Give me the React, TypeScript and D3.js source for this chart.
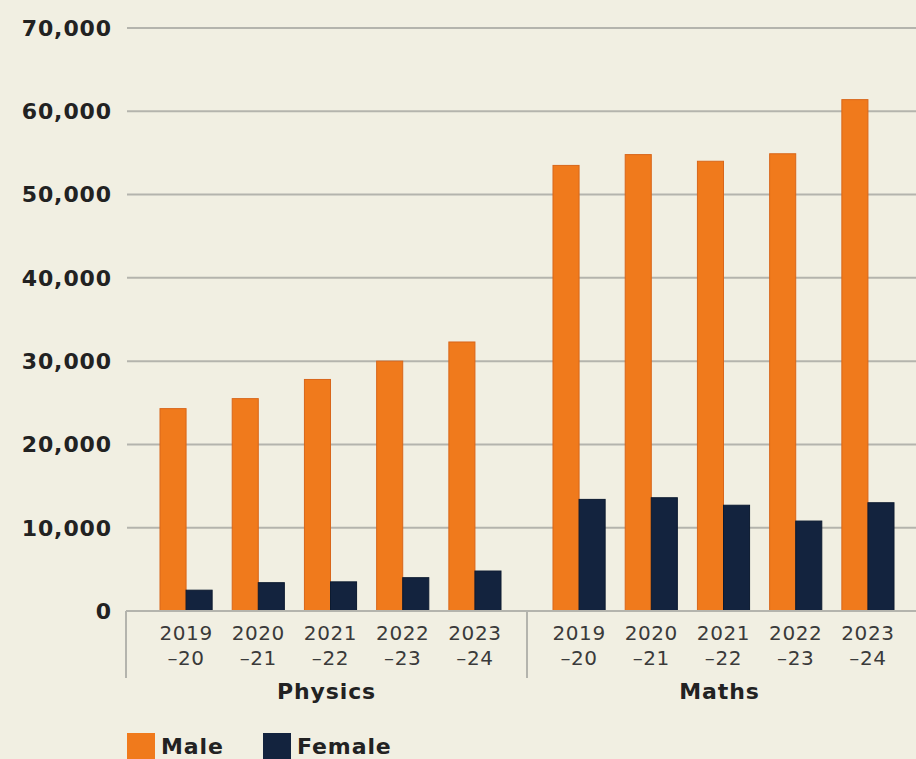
import React from "react";
import * as d3 from "d3";

const subjects = ["Physics", "Maths"];
const years = ["2019-20", "2020-21", "2021-22", "2022-23", "2023-24"];
const yearTop = ["2019", "2020", "2021", "2022", "2023"];
const yearBottom = ["–20", "–21", "–22", "–23", "–24"];
const series = ["Male", "Female"];
const physicsMale = [24300, 25500, 27800, 30000, 32300];
const physicsFemale = [2500, 3400, 3500, 4000, 4800];
const mathsMale = [53500, 54800, 54000, 54900, 61400];
const mathsFemale = [13400, 13600, 12700, 10800, 13000];
const yTicks = [0, 10000, 20000, 30000, 40000, 50000, 60000, 70000];

const W = 916;
const H = 759;
const colors: Record<string, string> = { Male: "#f07a1c", Female: "#13233e" };
const dataBySubject: Record<string, Record<string, number[]>> = {
  Physics: { Male: physicsMale, Female: physicsFemale },
  Maths: { Male: mathsMale, Female: mathsFemale },
};

export default function App() {
  const y = d3.scaleLinear().domain([0, 70000]).range([611, 28]);
  const xGroup = d3.scaleBand<string>().domain(subjects).range([134, 920]);
  const xYear = d3
    .scaleBand<string>()
    .domain(years)
    .range([0, xGroup.bandwidth()])
    .paddingInner(0.278)
    .paddingOuter(0.36);
  const xSeries = d3.scaleBand<string>().domain(series).range([0, xYear.bandwidth()]);
  const fmt = d3.format(",");
  const font = "'DejaVu Sans', sans-serif";

  return (
    <div style={{ position: "absolute", left: 0, top: 0 }}>
      <svg width={W} height={H} style={{ display: "block", background: "#f1efe2" }}>
        <rect x={0} y={0} width={W} height={H} fill="#f1efe2" />
        {yTicks.map((t) => (
          <g key={t}>
            {t > 0 && (
              <line x1={127} x2={W} y1={y(t)} y2={y(t)} stroke="#b4b4ad" strokeWidth={2} />
            )}
            <text
              x={112}
              y={y(t)}
              dy="0.36em"
              textAnchor="end"
              fontFamily={font}
              fontWeight="bold"
              fontSize={22}
              letterSpacing={0.9}
              fill="#222"
            >
              {fmt(t)}
            </text>
          </g>
        ))}
        {subjects.map((s) => {
          const gx = xGroup(s)!;
          return (
            <g key={s} transform={`translate(${gx},0)`}>
              {years.map((yr, i) => (
                <g key={yr} transform={`translate(${xYear(yr)},0)`}>
                  {series.map((se) => {
                    const v = dataBySubject[s][se][i];
                    return (
                      <rect
                        key={se}
                        x={xSeries(se)}
                        y={y(v)}
                        width={xSeries.bandwidth()}
                        height={y(0) - y(v)}
                        fill={colors[se]}
                        stroke={se === "Male" ? "#d8661a" : "#0c1a30"}
                        strokeWidth={1}
                      />
                    );
                  })}
                  <text
                    x={xYear.bandwidth() / 2}
                    y={640}
                    textAnchor="middle"
                    fontFamily={font}
                    fontSize={20}
                    letterSpacing={0.6}
                    fill="#3a3a3a"
                  >
                    {yearTop[i]}
                  </text>
                  <text
                    x={xYear.bandwidth() / 2}
                    y={665}
                    textAnchor="middle"
                    fontFamily={font}
                    fontSize={20}
                    letterSpacing={0.6}
                    fill="#3a3a3a"
                  >
                    {yearBottom[i]}
                  </text>
                </g>
              ))}
              <text
                x={xGroup.bandwidth() / 2 - 4}
                y={699}
                textAnchor="middle"
                fontFamily={font}
                fontWeight="bold"
                fontSize={22}
                letterSpacing={0.9}
                fill="#222"
              >
                {s}
              </text>
            </g>
          );
        })}
        <line x1={126} x2={W} y1={y(0)} y2={y(0)} stroke="#b4b4ad" strokeWidth={2} />
        <line x1={126} x2={126} y1={y(0)} y2={678} stroke="#b4b4ad" strokeWidth={2} />
        <line
          x1={xGroup("Maths")!}
          x2={xGroup("Maths")!}
          y1={y(0)}
          y2={678}
          stroke="#b4b4ad"
          strokeWidth={2}
        />
        {series.map((se, i) => {
          const lx = 127 + i * 136;
          return (
            <g key={se}>
              <rect x={lx} y={733} width={28} height={28} fill={colors[se]} />
              <text
                x={lx + 34}
                y={754}
                fontFamily={font}
                fontWeight="bold"
                fontSize={22}
                letterSpacing={0.9}
                fill="#222"
              >
                {se}
              </text>
            </g>
          );
        })}
      </svg>
    </div>
  );
}
